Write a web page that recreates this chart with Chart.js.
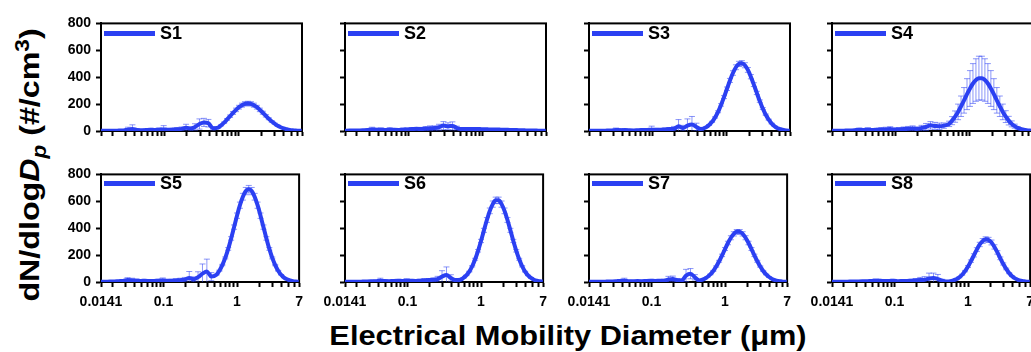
<!DOCTYPE html>
<html>
<head>
<meta charset="utf-8">
<script src="https://cdn.jsdelivr.net/npm/chart.js@4.4.1/dist/chart.umd.min.js"></script>
<style>
  html, body { margin: 0; padding: 0; background: #fff; }
  body { width: 1031px; height: 352px; position: relative; overflow: hidden;
         font-family: 'Liberation Sans', Arial, sans-serif; color: #000; }
  canvas.panel { position: absolute; }
  .legend { position: absolute; display: flex; align-items: center; height: 20px;
            font-weight: bold; font-size: 18px; line-height: 20px; white-space: nowrap; }
  .legend .swatch { display: inline-block; width: 51px; height: 5px; margin-right: 5px; }
  #ytitle { position: absolute; left: 31px; top: 165px; white-space: nowrap;
            font-weight: bold; font-size: 28px;
            transform: translate(-50%, -50%) rotate(-90deg) scaleX(1.15); }
  #ytitle sub, #ytitle sup { font-size: 0.7em; }
  #xtitle { position: absolute; left: 568px; top: 336px; white-space: nowrap;
            font-weight: bold; font-size: 27px;
            transform: translate(-50%, -50%) scaleX(1.14); }
</style>
</head>
<body>
<div id="ytitle">dN/dlog<i>D<sub>p</sub></i> (#/cm<sup>3</sup>)</div>
<div id="xtitle">Electrical Mobility Diameter (μm)</div>
<script>
// electrical mobility diameter (um): SMPS channels then APS channels
const diameters = [
  0.0141, 0.0162, 0.0186, 0.0214, 0.0245, 0.0282, 0.0324, 0.0372, 0.0427, 0.049,
  0.0562, 0.0646, 0.0741, 0.0851, 0.0977, 0.112, 0.129, 0.148, 0.17, 0.195,
  0.224, 0.257, 0.295, 0.339, 0.389, 0.447,
  0.525, 0.575, 0.631, 0.692, 0.759, 0.832, 0.912, 1.0, 1.096, 1.202,
  1.318, 1.445, 1.585, 1.738, 1.905, 2.089, 2.291, 2.512, 2.754, 3.02,
  3.311, 3.631, 3.981, 4.365, 4.786, 5.248, 5.754, 6.31, 6.918
];

const sampleNames = ['S1', 'S2', 'S3', 'S4', 'S5', 'S6', 'S7', 'S8'];

// dN/dlogDp (#/cm3)
const s1 = [1,1,2,2,3,4,10,14,8,5,7,9,8,10,12,9,11,13,16,24,18,30,52,64,58,20,
  25,42,62,86,110,134,157,177,192,202,205,202,192,177,157,136,113,91,71,54,39,28,19,13,8,5,3,2,1];
const s2 = [2,3,3,4,5,8,12,10,9,8,11,9,8,10,12,14,16,15,18,20,22,28,40,35,38,22,
  14,15,15,15,15,14,14,13,13,12,12,11,11,10,10,9,8,8,7,6,6,5,4,4,3,3,2,2,1];
const s3 = [1,2,2,2,3,4,8,6,7,5,4,6,7,8,10,9,10,12,14,16,35,22,40,48,30,15,
  28,44,68,101,143,194,252,314,376,431,474,499,504,489,454,404,345,283,222,167,121,84,55,35,21,13,7,4,2];
const s4 = [1,2,2,3,4,6,9,8,10,7,9,11,12,14,10,12,14,16,18,15,22,30,42,38,35,40,
  53,77,107,142,184,228,274,316,353,379,393,393,379,353,316,274,228,184,142,107,77,53,36,23,15,9,5,3,2];
const s5 = [1,2,3,4,6,8,14,12,10,8,9,7,8,10,12,9,10,12,14,18,30,20,36,62,78,40,
  54,84,126,179,246,324,408,493,571,634,676,690,676,634,571,493,408,324,246,179,126,84,54,33,20,11,6,3,2];
const s6 = [1,1,2,2,3,4,5,6,10,7,6,8,9,8,10,9,8,10,12,14,16,22,40,52,30,14,
  17,30,49,77,117,169,232,305,384,461,529,579,607,607,579,529,461,384,305,232,169,117,77,49,30,17,9,5,2];
const s7 = [1,1,2,2,3,4,5,8,10,6,5,7,6,8,9,8,9,10,18,22,14,12,48,62,35,12,
  23,37,56,82,115,154,198,245,290,329,358,373,373,358,329,290,245,198,154,115,82,56,37,23,14,8,5,2,1];
const s8 = [1,1,2,2,3,3,4,5,6,8,10,9,7,8,9,6,7,8,10,12,14,16,26,30,22,10,
  3,6,12,20,34,54,81,115,155,198,241,279,305,317,313,294,261,220,176,134,97,66,43,27,16,9,5,2,1];

// standard deviation (error bars)
const e1 = [1,1,2,2,3,5,18,32,10,6,9,10,8,12,28,10,9,12,14,26,12,24,38,30,28,12,
  3,4,5,7,9,11,13,14,15,16,16,16,15,14,13,11,9,7,6,4,3,2,2,1,1,0,0,0,0];
const e2 = [1,2,2,3,4,6,16,10,14,8,12,8,8,12,10,10,10,12,14,18,16,22,30,26,30,14,
  3,3,3,3,3,3,3,3,3,3,3,3,2,2,2,2,2,2,2,2,1,1,1,1,1,1,1,1,0];
const e3 = [1,1,2,2,3,4,14,12,10,6,5,6,8,10,26,10,8,10,12,18,50,20,50,60,28,10,
  2,3,4,5,7,9,11,13,15,17,18,19,19,19,18,16,14,12,9,7,5,4,3,2,1,1,0,0,0];
const e4 = [1,2,2,3,4,6,12,10,14,8,12,14,16,18,14,14,16,18,20,16,20,26,28,26,24,20,
  20,30,42,58,76,95,115,133,148,158,163,163,158,148,133,115,95,76,58,44,32,22,15,10,6,4,2,1,1];
const e5 = [1,2,3,4,6,8,18,16,12,8,10,6,8,10,18,8,10,12,14,16,48,18,40,72,92,30,
  3,4,5,7,10,13,16,20,23,25,27,28,27,25,23,20,16,13,10,7,5,3,2,1,1,0,0,0,0];
const e6 = [1,1,2,2,3,4,6,8,18,8,6,8,10,8,14,8,8,10,14,12,14,20,44,60,24,10,
  1,2,2,3,5,7,9,12,15,18,21,23,24,24,23,21,18,15,12,9,7,5,3,2,1,1,0,0,0];
const e7 = [1,1,2,2,3,4,5,10,18,6,5,8,6,8,10,8,8,10,24,22,12,10,46,38,20,8,
  1,2,3,4,5,7,9,11,13,15,16,17,17,16,15,13,11,9,7,5,4,3,2,1,1,0,0,0,0];
const e8 = [1,1,2,2,3,3,4,5,6,10,12,10,8,8,10,6,8,8,10,14,20,24,40,36,34,10,
  1,1,1,2,3,4,5,7,9,12,14,16,18,19,19,18,16,13,10,8,6,4,3,2,1,1,0,0,0];

const seriesValues = [s1, s2, s3, s4, s5, s6, s7, s8];
const seriesErrors = [e1, e2, e3, e4, e5, e6, e7, e8];

// axis ticks
const xTickLabels = [0.0141, 0.1, 1, 7];
const xMinorTicks = [0.02, 0.03, 0.04, 0.05, 0.06, 0.07, 0.08, 0.09,
  0.2, 0.3, 0.4, 0.5, 0.6, 0.7, 0.8, 0.9, 2, 3, 4, 5, 6];
const yTickLabels = [0, 200, 400, 600, 800];
const yMinorTicks = [100, 300, 500, 700];

// layout of the 2 x 4 grid (plot area positions on the page)
const PLOT_LEFT = [101, 345, 589, 832];
const PLOT_TOP = [18, 169];
const LEGEND_DY = [15, 14];
const PLOT_W = 201, PLOT_H = 113;
const AXIS_W = 45, XAXIS_H = 32, PAD_T = 8, PAD_R = 8;

const BLUE = '#2b40f2';
const ERR_BLUE = 'rgba(43, 64, 242, 0.55)';
const FONT = "'Liberation Sans', Arial, sans-serif";

Chart.defaults.font.family = FONT;

// box around each plot area
const frame = {
  id: 'frame',
  beforeDatasetsDraw(chart) {
    const { ctx, chartArea: a } = chart;
    ctx.save();
    ctx.strokeStyle = '#000';
    ctx.lineWidth = 2;
    ctx.strokeRect(a.left, a.top, a.right - a.left, a.bottom - a.top);
    ctx.restore();
  }
};

// vertical error bars with caps, drawn under the line
const errorBars = {
  id: 'errorBars',
  beforeDatasetsDraw(chart, args, opts) {
    const { ctx, chartArea: a, scales: { x, y } } = chart;
    const pts = chart.data.datasets[0].data;
    const errs = opts.errors || [];
    ctx.save();
    ctx.beginPath();
    ctx.rect(a.left, a.top, a.right - a.left, a.bottom - a.top);
    ctx.clip();
    ctx.strokeStyle = ERR_BLUE;
    ctx.lineWidth = 1;
    pts.forEach((p, i) => {
      const e = errs[i];
      if (!e) return;
      const px = x.getPixelForValue(p.x);
      const top = y.getPixelForValue(p.y + e);
      const bot = y.getPixelForValue(p.y - e);
      ctx.beginPath();
      ctx.moveTo(px, top); ctx.lineTo(px, bot);
      ctx.moveTo(px - 3, top); ctx.lineTo(px + 3, top);
      ctx.moveTo(px - 3, bot); ctx.lineTo(px + 3, bot);
      ctx.stroke();
    });
    ctx.restore();
  }
};

function makeLegend(idx, col, row) {
  const div = document.createElement('div');
  div.className = 'legend';
  div.style.left = (PLOT_LEFT[col] + 3) + 'px';
  div.style.top = (PLOT_TOP[row] + LEGEND_DY[row] - 10) + 'px';
  const sw = document.createElement('span');
  sw.className = 'swatch';
  sw.style.background = BLUE;
  div.appendChild(sw);
  div.appendChild(document.createTextNode(sampleNames[idx]));
  document.body.appendChild(div);
}

function makePanel(idx) {
  const col = idx % 4;
  const row = Math.floor(idx / 4);

  const canvas = document.createElement('canvas');
  canvas.className = 'panel';
  canvas.width = AXIS_W + PLOT_W + PAD_R;
  canvas.height = PAD_T + PLOT_H + XAXIS_H;
  canvas.style.left = (PLOT_LEFT[col] - AXIS_W) + 'px';
  canvas.style.top = (PLOT_TOP[row] - PAD_T) + 'px';
  document.body.appendChild(canvas);

  const tickFont = { family: FONT, size: 14, weight: 'bold' };

  new Chart(canvas, {
    type: 'line',
    data: {
      datasets: [{
        label: sampleNames[idx],
        data: diameters.map((d, i) => ({ x: d, y: seriesValues[idx][i] })),
        borderColor: BLUE,
        backgroundColor: BLUE,
        borderWidth: 4,
        pointRadius: 0,
        cubicInterpolationMode: 'monotone',
        fill: false
      }]
    },
    options: {
      responsive: false,
      animation: false,
      devicePixelRatio: 1,
      layout: { padding: { top: PAD_T, right: PAD_R, left: 0, bottom: 0 } },
      plugins: {
        tooltip: { enabled: false },
        legend: { display: false }, // legend drawn as html over the plot
        errorBars: { errors: seriesErrors[idx] }
      },
      scales: {
        x: {
          type: 'logarithmic',
          min: 0.0141,
          max: 7,
          afterBuildTicks: (s) => {
            s.ticks = xTickLabels.concat(xMinorTicks).sort((a, b) => a - b).map(v => ({ value: v }));
          },
          afterFit: (s) => { s.height = XAXIS_H; },
          border: { color: '#000', width: 2 },
          grid: { drawOnChartArea: false, drawTicks: true, tickLength: 5, tickWidth: 2, tickColor: '#000' },
          ticks: {
            display: row === 1,
            autoSkip: false,
            maxRotation: 0,
            minRotation: 0,
            padding: 7,
            color: '#000',
            font: tickFont,
            callback: (v) => xTickLabels.includes(v) ? String(v) : ''
          }
        },
        y: {
          min: 0,
          max: 800,
          afterBuildTicks: (s) => {
            s.ticks = yTickLabels.concat(yMinorTicks).sort((a, b) => a - b).map(v => ({ value: v }));
          },
          afterFit: (s) => { s.width = AXIS_W; },
          border: { color: '#000', width: 2 },
          grid: { drawOnChartArea: false, drawTicks: true, tickLength: 5, tickWidth: 2, tickColor: '#000' },
          ticks: {
            padding: 5,
            color: '#000',
            font: tickFont,
            callback: (v) => (col === 0 && yTickLabels.includes(v)) ? String(v) : ''
          }
        }
      }
    },
    plugins: [frame, errorBars]
  });

  makeLegend(idx, col, row);
}

for (let i = 0; i < 8; i++) makePanel(i);
</script>
</body>
</html>
